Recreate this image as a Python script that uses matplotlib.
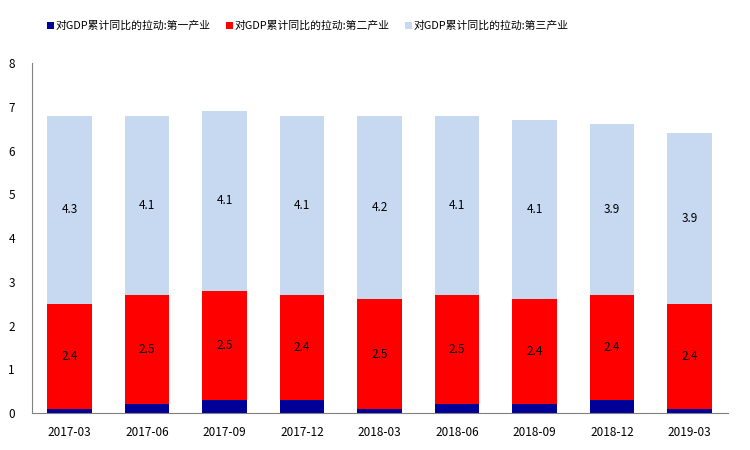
import matplotlib
matplotlib.use("Agg")
import matplotlib.pyplot as plt
import numpy as np

plt.rcParams["font.family"] = ["Noto Sans CJK SC", "DejaVu Sans"]

quarters = ["2017-03", "2017-06", "2017-09", "2017-12", "2018-03",
            "2018-06", "2018-09", "2018-12", "2019-03"]
primary = [0.1, 0.2, 0.3, 0.3, 0.1, 0.2, 0.2, 0.3, 0.1]
secondary = [2.4, 2.5, 2.5, 2.4, 2.5, 2.5, 2.4, 2.4, 2.4]
tertiary = [4.3, 4.1, 4.1, 4.1, 4.2, 4.1, 4.1, 3.9, 3.9]
names = ["对GDP累计同比的拉动:第一产业", "对GDP累计同比的拉动:第二产业",
         "对GDP累计同比的拉动:第三产业"]
C = ["#000099", "#FF0000", "#C6D9F0"]

fig = plt.figure(figsize=(7.5, 4.5), dpi=100)
ax = fig.add_axes([0.042, 0.082, 0.929, 0.778])
x = np.arange(len(quarters))
w = 0.57
p = np.array(primary)
s = np.array(secondary)
t = np.array(tertiary)
b1 = ax.bar(x, p, w, color=C[0], label=names[0])
b2 = ax.bar(x, s, w, bottom=p, color=C[1], label=names[1])
b3 = ax.bar(x, t, w, bottom=p + s, color=C[2], label=names[2])
for i in range(len(x)):
    ax.text(x[i], p[i] + s[i] / 2, f"{s[i]:.1f}", ha="center", va="center", fontsize=8.5)
    ax.text(x[i], p[i] + s[i] + t[i] / 2, f"{t[i]:.1f}", ha="center", va="center", fontsize=8.5)

ax.set_ylim(0, 8)
ax.set_xlim(-0.49, len(x) - 0.5)
ax.set_yticks(range(0, 9))
ax.set_xticks(x)
ax.set_xticklabels(quarters)
ax.tick_params(length=0, labelsize=8.5)
ax.tick_params(axis="x", pad=9)
ax.tick_params(axis="y", pad=12)
ax.spines[["top", "right"]].set_visible(False)
for sp in ("left", "bottom"):
    ax.spines[sp].set_color("#808080")
fig.legend(handles=[b1, b2, b3], loc="center left", bbox_to_anchor=(0.063, 0.942), ncol=3,
           frameon=False, fontsize=7.8, handlelength=0.6, handleheight=0.6,
           handletextpad=0.2, columnspacing=1.4, borderaxespad=0, borderpad=0)
fig.savefig("out.png", dpi=100)
